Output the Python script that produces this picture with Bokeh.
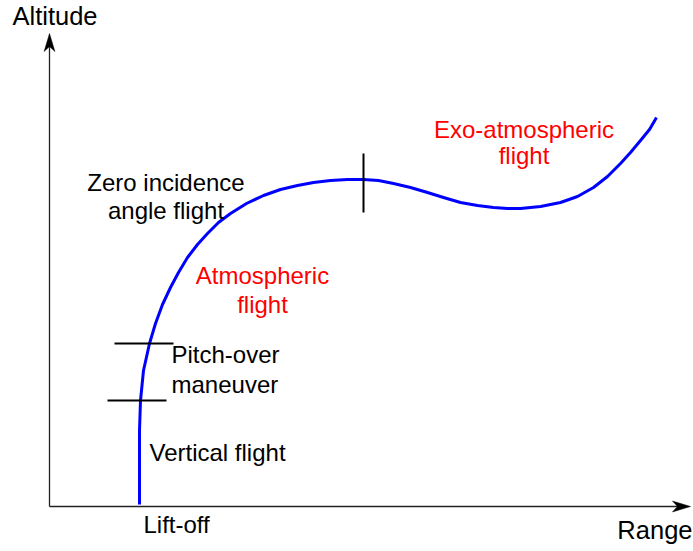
from bokeh.plotting import figure
from bokeh.models import Range1d
from bokeh.core.properties import value
from bokeh.embed import file_html
from bokeh.resources import INLINE

# Trajectory (range, altitude)
traj_range = [90, 90, 90, 91, 94, 100, 106, 113, 121, 129, 138, 148, 158, 169, 181, 197,
              214, 231, 248, 264, 281, 298, 314, 329, 344, 361, 378, 394, 411, 428, 444,
              458, 471, 491, 511, 528, 544, 558, 571, 581, 591, 600, 607]
traj_alt = [2, 46, 76, 106, 136, 163, 183, 202, 219, 234, 249, 262, 273, 284, 293, 303,
            311, 317, 321, 324, 326, 327, 327, 326, 323, 319, 314, 309, 304, 301, 299,
            298, 298, 300, 304, 310, 319, 330, 343, 354, 366, 377, 389]

# Phase boundary marks
hmark_x0 = [58, 65]
hmark_x1 = [117, 124]
hmark_y = [106, 163]
vmark_x = [314]
vmark_y0 = [294]
vmark_y1 = [353]

# Axis extents
x_axis_end = 641
y_axis_end = 473

black_labels = ["Lift-off", "Vertical flight", "Pitch-over", "maneuver"]
black_lx = [94, 100, 122, 122]
black_ly = [-18, 54, 152, 122]

center_black = ["Zero incidence", "angle flight"]
center_black_x = [116.5, 116.5]
center_black_y = [324, 296]

red_labels = ["Atmospheric", "flight", "Exo-atmospheric", "flight"]
red_x = [213, 213, 474.5, 474.5]
red_y = [231, 202, 377, 351]

FONT = value("Liberation Sans")

p = figure(width=693, height=551, output_backend="svg", toolbar_location=None,
           x_range=Range1d(-49, 644), y_range=Range1d(-45, 506),
           min_border=0, min_border_left=0, min_border_right=0,
           min_border_top=0, min_border_bottom=0)
p.axis.visible = False
p.grid.visible = False
p.outline_line_color = None
p.background_fill_color = "white"
p.border_fill_color = "white"

# Axes with arrowheads
p.line([0, x_axis_end - 12], [0, 0], line_color="#222222", line_width=1.3)
p.line([0, 0], [0, y_axis_end - 12], line_color="#222222", line_width=1.3)
L, N, W = 18, 13, 5.4
p.patch([x_axis_end, x_axis_end - L, x_axis_end - N, x_axis_end - L],
        [0, W, 0, -W], fill_color="black", line_color="black", line_width=0.5)
p.patch([0, W, 0, -W],
        [y_axis_end, y_axis_end - L, y_axis_end - N, y_axis_end - L],
        fill_color="black", line_color="black", line_width=0.5)

# Trajectory
p.line(traj_range, traj_alt, line_color="#0000ff", line_width=3, line_join="round")

# Phase marks
p.segment(x0=hmark_x0, y0=hmark_y, x1=hmark_x1, y1=hmark_y, line_color="black", line_width=2)
p.segment(x0=vmark_x, y0=vmark_y0, x1=vmark_x, y1=vmark_y1, line_color="black", line_width=2)

# Labels
p.text(x=black_lx, y=black_ly, text=black_labels, text_font=FONT, text_font_size="24px",
       text_color="black", text_align="left", text_baseline="alphabetic")
p.text(x=center_black_x, y=center_black_y, text=center_black, text_font=FONT,
       text_font_size="24px", text_color="black", text_align="center", text_baseline="alphabetic")
p.text(x=red_x, y=red_y, text=red_labels, text_font=FONT, text_font_size="24px",
       text_color="#ff0000", text_align="center", text_baseline="alphabetic")
p.text(x=[-37], y=[491], text=["Altitude"], text_font=FONT, text_font_size="25.5px",
       text_color="black", text_align="left", text_baseline="alphabetic")
p.text(x=[643], y=[-23], text=["Range"], text_font=FONT, text_font_size="25.5px",
       text_color="black", text_align="right", text_baseline="alphabetic")

open("out.html", "w").write(file_html(p, INLINE))
